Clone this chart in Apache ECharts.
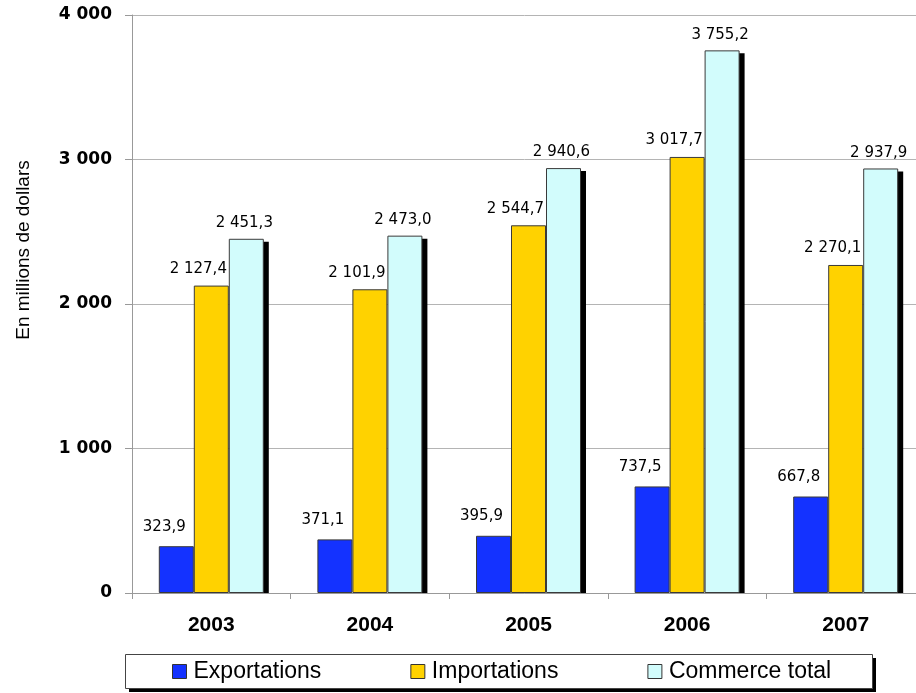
<!DOCTYPE html>
<html><head><meta charset="utf-8">
<script src="https://cdn.jsdelivr.net/npm/echarts@6/dist/echarts.min.js"></script>
<style>html,body{margin:0;padding:0;background:#fff}#c{width:916px;height:693px}</style>
</head><body><div id="c"></div>
<script>
const categories = ['2003', '2004', '2005', '2006', '2007'];
const exportations = [323.9, 371.1, 395.9, 737.5, 667.8];
const importations = [2127.4, 2101.9, 2544.7, 3017.7, 2270.1];
const commerceTotal = [2451.3, 2473.0, 2940.6, 3755.2, 2937.9];
const seriesNames = ['Exportations', 'Importations', 'Commerce total'];
const yTicks = [0, 1000, 2000, 3000, 4000];

function fmtNum(v, dec) {
  const s = v.toFixed(dec);
  const parts = s.split('.');
  const intPart = parts[0].replace(/\B(?=(\d{3})+(?!\d))/g, ' ');
  return parts.length > 1 ? intPart + ',' + parts[1] : intPart;
}

const BAR_W = 35;
const chart = echarts.init(document.getElementById('c'), null, {renderer: 'canvas'});
function mkSeries(name, data, color, offX, dist) {
  return {
    name: name, type: 'bar', data: data, barWidth: BAR_W, barGap: '0%',
    itemStyle: {color: color, borderColor: '#3a3a3a', borderWidth: 1},
    label: {
      show: true, position: 'top', distance: dist, offset: [offX, 0],
      fontFamily: 'DejaVu Sans', fontSize: 15, color: '#000',
      formatter: p => fmtNum(p.value, 1)
    },
    emphasis: {disabled: true}
  };
}

// shadow behind the "Commerce total" bars (third bar of each group)
const shadowSeries = {
  type: 'custom', name: 'shadow', silent: true,
  data: commerceTotal.map((v, i) => [i, v]),
  renderItem: function (params, api) {
    const top = api.coord([api.value(0), api.value(1)]);
    const base = api.coord([api.value(0), 0]);
    const x = top[0] + BAR_W - BAR_W / 2 + 5;
    const y = top[1] + 3;
    return {type: 'rect', shape: {x: x, y: y, width: BAR_W, height: base[1] - y},
      style: {fill: '#000'}};
  },
  z: 1
};

chart.setOption({
  animation: false,
  backgroundColor: '#fff',
  grid: {left: 132, right: -9, top: 15, bottom: 100, containLabel: false, outerBoundsMode: 'none'},
  xAxis: {
    type: 'category', data: categories,
    axisLine: {lineStyle: {color: '#999', width: 1}},
    axisTick: {show: true, length: 6, lineStyle: {color: '#999'}},
    axisLabel: {margin: 22, fontFamily: 'Liberation Sans', fontWeight: 'bold', fontSize: 21, color: '#000'},
    z: 5
  },
  yAxis: {
    type: 'value', min: yTicks[0], max: yTicks[yTicks.length - 1], interval: 1000,
    name: 'En millions de dollars', nameLocation: 'middle', nameGap: 99,
    nameTextStyle: {fontFamily: 'Liberation Sans', fontSize: 19, color: '#000', padding: [0, 0, 0, 108]},
    axisLine: {show: true, lineStyle: {color: '#999', width: 1}},
    axisTick: {show: true, length: 7, lineStyle: {color: '#999'}},
    axisLabel: {margin: 20, fontFamily: 'DejaVu Sans', fontWeight: 'bold', fontSize: 17, color: '#000',
      formatter: v => fmtNum(v, 0)},
    splitLine: {show: true, lineStyle: {color: '#b4b4b4', width: 1}}
  },
  graphic: [
    {type: 'rect', shape: {x: 129, y: 658, width: 747, height: 34}, style: {fill: '#000'}, z: 0, silent: true},
    {type: 'rect', shape: {x: 125.5, y: 654.5, width: 747, height: 34}, style: {fill: '#fff', stroke: '#444', lineWidth: 1}, z: 0, silent: true}
  ],
  legend: {
    data: seriesNames, left: 125, top: 654, orient: 'horizontal',
    padding: [6, 39, 6, 47], itemGap: 89, itemWidth: 14, itemHeight: 14,
    icon: 'rect', z: 10,
    itemStyle: {borderColor: '#333', borderWidth: 1},
    textStyle: {fontFamily: 'Liberation Sans', fontSize: 23, color: '#000', padding: [0, 0, 0, 2]},
    selectedMode: false
  },
  series: [
    shadowSeries,
    mkSeries(seriesNames[0], exportations, '#1432FF', -12, 12),
    mkSeries(seriesNames[1], importations, '#FFD200', -13, 9),
    mkSeries(seriesNames[2], commerceTotal, '#D2FCFC', -2, 8)
  ]
});
</script></body></html>
